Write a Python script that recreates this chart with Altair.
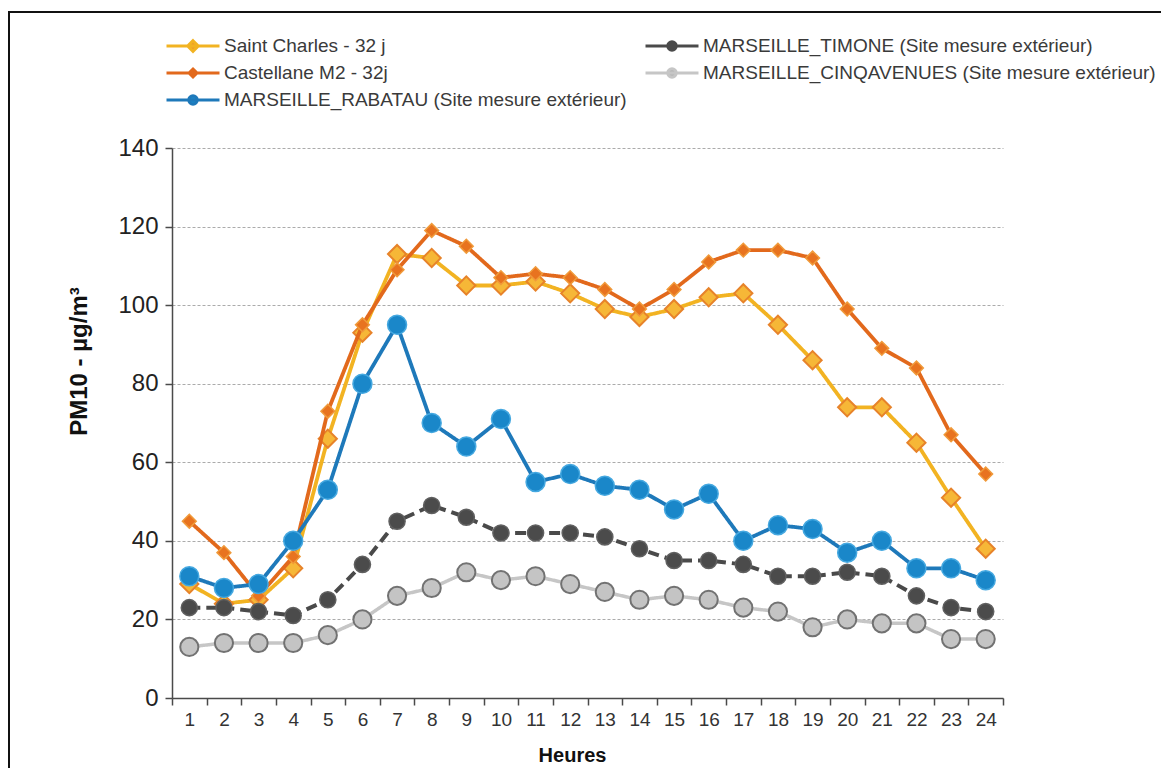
import altair as alt
import pandas as pd

# ---------------- data ----------------
hours = list(range(1, 25))
saint_charles = [29, 24, 25, 33, 66, 93, 113, 112, 105, 105, 106, 103, 99, 97, 99, 102, 103, 95, 86, 74, 74, 65, 51, 38]
castellane = [45, 37, 26, 36, 73, 95, 109, 119, 115, 107, 108, 107, 104, 99, 104, 111, 114, 114, 112, 99, 89, 84, 67, 57]
rabatau = [31, 28, 29, 40, 53, 80, 95, 70, 64, 71, 55, 57, 54, 53, 48, 52, 40, 44, 43, 37, 40, 33, 33, 30]
timone = [23, 23, 22, 21, 25, 34, 45, 49, 46, 42, 42, 42, 41, 38, 35, 35, 34, 31, 31, 32, 31, 26, 23, 22]
cinqavenues = [13, 14, 14, 14, 16, 20, 26, 28, 32, 30, 31, 29, 27, 25, 26, 25, 23, 22, 18, 20, 19, 19, 15, 15]

series_names = [
    "Saint Charles - 32 j",
    "Castellane M2 - 32j",
    "MARSEILLE_RABATAU (Site mesure extérieur)",
    "MARSEILLE_TIMONE (Site mesure extérieur)",
    "MARSEILLE_CINQAVENUES (Site mesure extérieur)",
]
series_values = [saint_charles, castellane, rabatau, timone, cinqavenues]
y_ticks = [0, 20, 40, 60, 80, 100, 120, 140]

rows = []
for name, vals in zip(series_names, series_values):
    for h, v in zip(hours, vals):
        rows.append({"series": name, "hour": h, "pm10": v})
df = pd.DataFrame(rows)

# ---------------- styles ----------------
styles = {
    series_names[0]: dict(line="#F2B322", width=3.8, dash=[1, 0], shape="diamond", size=330,
                          fill="#F6B737", stroke="#E7832A", sw=2),
    series_names[1]: dict(line="#E2691C", width=3.8, dash=[1, 0], shape="diamond", size=190,
                          fill="#E8731F", stroke="#F09A3A", sw=1.5),
    series_names[2]: dict(line="#1E79BA", width=3.8, dash=[1, 0], shape="circle", size=360,
                          fill="#1A87C9", stroke="#45A8E0", sw=1.5),
    series_names[3]: dict(line="#4A4A4A", width=4, dash=[11, 6], shape="circle", size=260,
                          fill="#4B4B4B", stroke="#606060", sw=1.5),
    series_names[4]: dict(line="#C6C6C6", width=3.5, dash=[1, 0], shape="circle", size=330,
                          fill="#C4C4C4", stroke="#727272", sw=2),
}

FONT = "Liberation Sans"
X = alt.X("hour:Q", scale=alt.Scale(domain=[0.5, 24.5], nice=False, zero=False), axis=None)
Y = alt.Y("pm10:Q", scale=alt.Scale(domain=[0, 140], nice=False, zero=True), axis=None)

x_label_axis = alt.Axis(
    orient="bottom", values=hours, ticks=False, tickSize=0, grid=False,
    domainColor="#4a4a4a", domainWidth=1.5, labelFont=FONT, labelFontSize=19,
    labelColor="#333333", labelPadding=12, title="Heures", titleFont=FONT,
    titleFontSize=20, titleFontWeight="bold", titleColor="#111111",
    titleX=400, titleY=57, titleBaseline="middle", titleAlign="center",
)
x_tick_axis = alt.Axis(
    orient="bottom", values=[h - 0.5 for h in hours] + [24.5], labels=False,
    ticks=True, tickSize=7, tickColor="#4a4a4a", tickWidth=1.5, domain=False,
    grid=False, title=None,
)
y_axis = alt.Axis(
    orient="left", values=y_ticks, grid=True, gridColor="#ababab", gridDash=[3, 2],
    gridWidth=1.2, domainColor="#4a4a4a", domainWidth=1.5, tickColor="#4a4a4a",
    tickWidth=1.5, tickSize=7, labelFont=FONT, labelFontSize=24, labelColor="#222222",
    labelPadding=7, title="PM10 - µg/m³", titleFont=FONT, titleFontSize=24,
    titleFontWeight="bold", titleColor="#111111", titleAngle=270,
    titleX=-93, titleY=213, titleBaseline="middle", titleAlign="center",
)

layers = []
for i, name in enumerate(series_names):
    st = styles[name]
    base = alt.Chart(df).transform_filter(alt.datum.series == name)
    if i == 0:
        xl = alt.X("hour:Q", scale=alt.Scale(domain=[0.5, 24.5], nice=False, zero=False), axis=x_label_axis)
        yl = alt.Y("pm10:Q", scale=alt.Scale(domain=[0, 140], nice=False, zero=True), axis=y_axis)
        xp = alt.X("hour:Q", scale=alt.Scale(domain=[0.5, 24.5], nice=False, zero=False), axis=x_tick_axis)
    else:
        xl, yl, xp = X, Y, X
    line = base.mark_line(color=st["line"], strokeWidth=st["width"], strokeDash=st["dash"]).encode(
        x=xl, y=yl, order="hour:Q"
    )
    pts = base.mark_point(
        shape=st["shape"], size=st["size"], filled=True, fill=st["fill"],
        stroke=st["stroke"], strokeWidth=st["sw"], opacity=1,
    ).encode(x=xp, y=Y)
    layers += [line, pts]

# ---------------- legend (from an empty layer, explicit domain; column-major grid) ----------------
legend_order = series_names
dmd = "M-1,0L1,0M0,-0.2L0.2,0L0,0.2L-0.2,0Z"
dms = "M-1,0L1,0M0,-0.15L0.15,0L0,0.15L-0.15,0Z"
circ = "M-1,0L1,0M-0.16,0A0.16,0.16 0 1,0 0.16,0A0.16,0.16 0 1,0 -0.16,0Z"
legend_paths = {series_names[0]: dmd, series_names[1]: dms, series_names[2]: circ,
                series_names[3]: circ, series_names[4]: circ}
legend_fill = {series_names[0]: "#EE9A2A", series_names[1]: "#E2691C", series_names[2]: "#1A87C9",
               series_names[3]: "#4B4B4B", series_names[4]: "#B5B5B5"}

leg = alt.Legend(
    title=None, orient="none", legendX=-7, legendY=-113, columns=2, columnPadding=17,
    rowPadding=5, clipHeight=22, symbolSize=2809, symbolStrokeWidth=3,
    labelFont=FONT, labelFontSize=19, labelColor="#3a3a3a", labelOffset=3,
    labelLimit=700, padding=0, symbolOffset=0,
)
legend_layer = alt.Chart(df).transform_filter("false").mark_point(
    filled=True, opacity=1, size=2809, strokeWidth=3
).encode(
    x=X, y=Y,
    fill=alt.Fill("series:N", scale=alt.Scale(domain=legend_order, range=[legend_fill[n] for n in legend_order]), legend=leg),
    stroke=alt.Stroke("series:N", scale=alt.Scale(domain=legend_order, range=[styles[n]["line"] for n in legend_order]), legend=leg),
    shape=alt.Shape("series:N", scale=alt.Scale(domain=legend_order, range=[legend_paths[n] for n in legend_order]), legend=leg),
)

frame = alt.Chart(pd.DataFrame({"frame": [0]})).mark_rect(
    fillOpacity=0, stroke="#111111", strokeWidth=2
).encode(x=alt.value(-163), x2=alt.value(1300), y=alt.value(-136), y2=alt.value(900))

chart = alt.layer(frame, *layers, legend_layer).resolve_axis(
    x="independent", y="independent"
).properties(
    width=831, height=550,
    autosize=alt.AutoSizeParams(type="none"),
    padding={"left": 164, "top": 140, "right": 158, "bottom": 70},
    background="white",
).configure_view(stroke=None)

chart.save("out.html", embed_options={"renderer": "svg", "actions": False})
